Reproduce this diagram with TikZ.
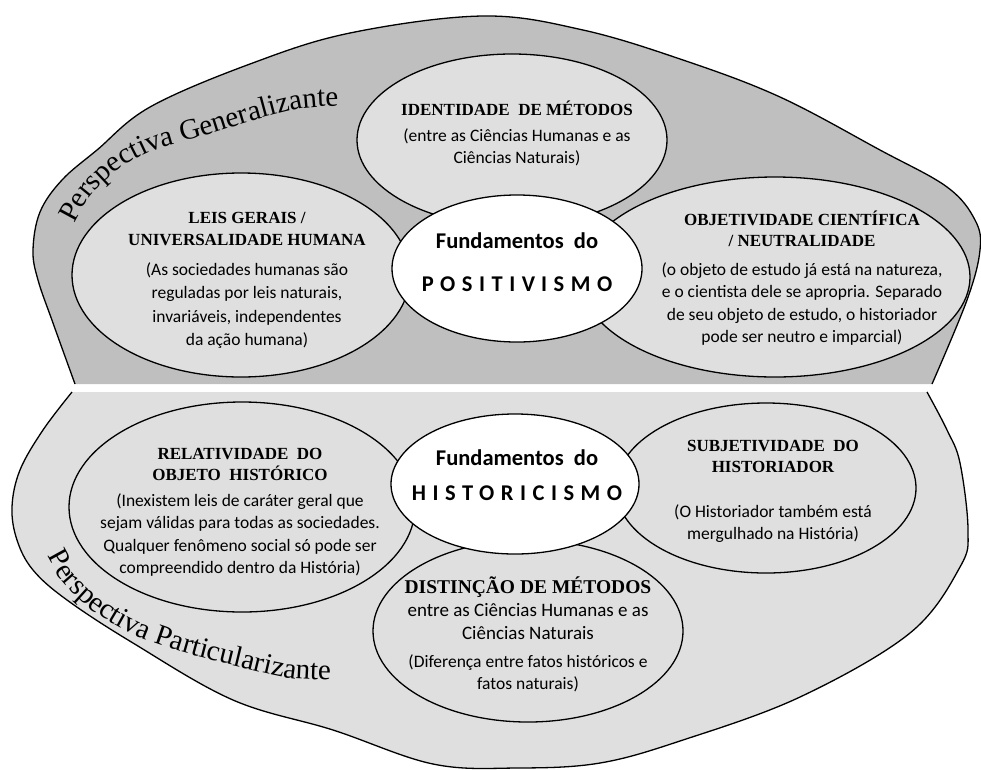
\documentclass[tikz,border=0pt]{standalone}
\usepackage{fontspec}
\setmainfont{Carlito}
\newfontfamily\tnrfont{Liberation Serif}
\newfontfamily\calfont{Carlito}
\usetikzlibrary{shapes.geometric,decorations.text}
\definecolor{outerdark}{gray}{0.75}
\definecolor{lightfill}{gray}{0.875}
\begin{document}
\begin{tikzpicture}[x=1pt,y=-1pt,
  bub/.style={ellipse, draw=black, line width=1.3pt, fill=lightfill, inner sep=0pt},
  core/.style={ellipse, draw=black, line width=1.3pt, fill=white, inner sep=0pt},
  ttl/.style={font=\tnrfont\bfseries\fontsize{17}{21.5}\selectfont, align=center, inner sep=0pt},
  bigttl/.style={font=\tnrfont\bfseries\fontsize{19.5}{22}\selectfont, align=center, inner sep=0pt},
  bdy/.style={font=\calfont\fontsize{17.5}{22.3}\selectfont, align=center, inner sep=0pt},
  bdyloose/.style={font=\calfont\fontsize{17.5}{23.3}\selectfont, align=center, inner sep=0pt},
  bigbdy/.style={font=\calfont\fontsize{19}{23}\selectfont, align=center, inner sep=0pt},
  fund/.style={font=\calfont\bfseries\fontsize{22.5}{26}\selectfont, inner sep=0pt},
  spaced/.style={font=\calfont\bfseries\fontsize{22.5}{26}\selectfont\addfontfeature{LetterSpace=29}, inner sep=0pt},
  rim/.style={line width=1.3pt}
]
\useasboundingbox (0,0) rectangle (981,769);
% upper region
\fill[outerdark] plot[smooth, tension=0.6] coordinates {(75,384) (53,323) (38,280) (33,250) (40,212) (62,180) (97,150) (150,107) (250,64) (350,33) (483,16) (583,30) (683,60) (780,97) (880,150) (947,187) (975,220) (980,250) (967,300) (932,384)} -- cycle;
\draw[rim] plot[smooth, tension=0.6] coordinates {(75,384) (53,323) (38,280) (33,250) (40,212) (62,180) (97,150) (150,107) (250,64) (350,33) (483,16) (583,30) (683,60) (780,97) (880,150) (947,187) (975,220) (980,250) (967,300) (932,384)};
% lower region
\fill[lightfill] plot[smooth, tension=0.6] coordinates {(72,392) (43,430) (20,470) (12,507) (17,540) (33,570) (67,600) (133,643) (233,700) (333,730) (433,764) (517,768) (600,763) (683,740) (800,697) (910,633) (960,567) (968,530) (960,463) (947,430) (927,392)} -- cycle;
\draw[rim] plot[smooth, tension=0.6] coordinates {(72,392) (43,430) (20,470) (12,507) (17,540) (33,570) (67,600) (133,643) (233,700) (333,730) (433,764) (517,768) (600,763) (683,740) (800,697) (910,633) (960,567) (968,530) (960,463) (947,430) (927,392)};
% curved labels
\path[decorate, decoration={text along path, text align=center,
  text={|\tnrfont\fontsize{29}{29}\selectfont|Perspectiva Generalizante}}]
  plot[smooth] coordinates {(68,236) (88,200) (116,171) (155,150) (200,137) (255,120) (305,108) (352,106)};
\path[decorate, decoration={text along path, text align=center,
  text={|\tnrfont\fontsize{29}{29}\selectfont|Perspectiva Particularizante}}]
  plot[smooth] coordinates {(42,546) (62,581) (92,610) (132,634) (182,652) (240,667) (290,678) (342,680)};
% upper bubbles
\node[bub, minimum width=310pt, minimum height=172pt] (idm) at (512,140) {};
\node[bub, minimum width=338pt, minimum height=204pt] (leis) at (241,275) {};
\node[bub, minimum width=390pt, minimum height=200pt] (obj) at (775,277) {};
\node[core, minimum width=250pt, minimum height=147pt] (pos) at (517,268.5) {};
% lower bubbles
\node[bub, minimum width=346pt, minimum height=210pt] (rel) at (242,507) {};
\node[bub, minimum width=300pt, minimum height=170pt] (subj) at (766,488) {};
\node[bub, minimum width=310pt, minimum height=182pt] (dist) at (528,631) {};
\node[core, minimum width=248pt, minimum height=140pt] (his) at (515,484) {};
% texts upper
\node[ttl] (t1) at (517,108) {IDENTIDADE\ \ DE MÉTODOS};
\node[bdy] (b1) at (517,147) {(entre as Ciências Humanas e as\\Ciências Naturais)};
\node[ttl] (t2) at (247,229) {LEIS GERAIS /\\UNIVERSALIDADE HUMANA};
\node[bdyloose] (b2) at (247,305.5) {(As sociedades humanas são\\reguladas por leis naturais,\\invariáveis, independentes\\da ação humana)};
\node[ttl] (t3) at (802,229) {OBJETIVIDADE CIENTÍFICA\\/ NEUTRALIDADE};
\node[bdy] (b3) at (802,304) {(o objeto de estudo já está na natureza,\\e o cientista dele se apropria. Separado\\de seu objeto de estudo, o historiador\\pode ser neutro e imparcial)};
\node[fund] (f1) at (517,241) {Fundamentos\ \ do};
\node[spaced] (p1) at (517,284) {POSITIV\hspace{6pt}ISMO};
% texts lower
\node[ttl] (t4) at (240,464.5) {RELATIVIDADE\ \ DO\\OBJETO\ \ HISTÓRICO};
\node[bdy] (b4) at (240,535) {(Inexistem leis de caráter geral que\\sejam válidas para todas as sociedades.\\Qualquer fenômeno social só pode ser\\compreendido dentro da História)};
\node[ttl] (t5) at (773,456.5) {SUBJETIVIDADE\ \ DO\\HISTORIADOR};
\node[bdy] (b5) at (773,523.5) {(O Historiador também está\\mergulhado na História)};
\node[fund] (f2) at (517,458) {Fundamentos\ \ do};
\node[spaced] (h1) at (517,493) {HISTORICISMO};
\node[bigttl] (t6) at (528,587) {DISTINÇÃO DE MÉTODOS};
\node[bigbdy] (b6) at (528,621.5) {entre as Ciências Humanas e as\\Ciências Naturais};
\node[bdy] (b7) at (528,673) {(Diferença entre fatos históricos e\\fatos naturais)};
\end{tikzpicture}
\end{document}
